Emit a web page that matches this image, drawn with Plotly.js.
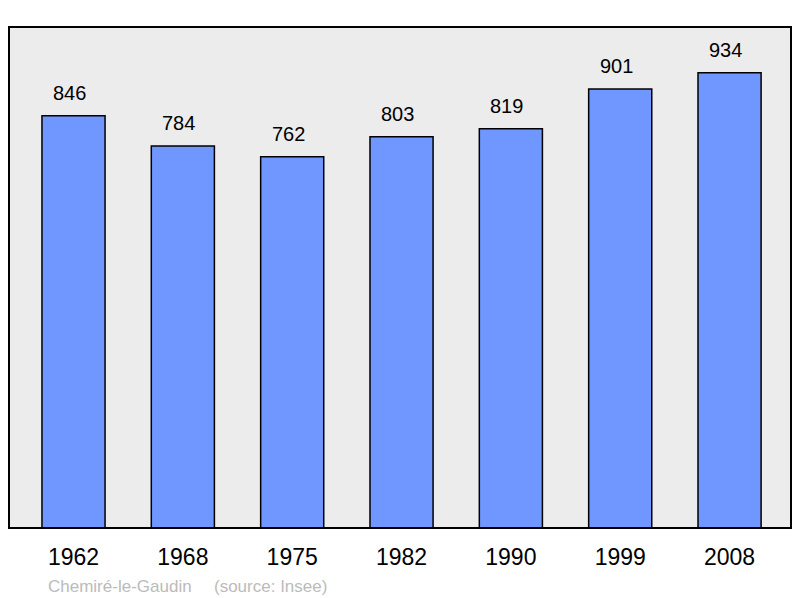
<!DOCTYPE html>
<html>
<head>
<meta charset="utf-8">
<script src="https://cdn.plot.ly/plotly-3.0.1.min.js"></script>
<style>
  body { margin: 0; background: #fff; }
  #chart { width: 800px; height: 598px; }
</style>
</head>
<body>
<div id="chart"></div>
<script>
// population by census year
var years = ['1962', '1968', '1975', '1982', '1990', '1999', '2008'];
var population = [846, 784, 762, 803, 819, 901, 934];
var commune = 'Chemiré-le-Gaudin';
var source = '(source: Insee)';

var trace = {
    x: years,
    y: population,
    type: 'bar',
    width: 0.577,
    marker: {
        color: '#7096ff',
        line: { color: '#000', width: 1.5 }
    },
    hoverinfo: 'none'
};

// value labels above the bars (x as category index)
var labels = [];
for (let i = 0; i < years.length; i++) {
    labels.push({
        x: i, y: population[i],
        xref: 'x', yref: 'y',
        yanchor: 'bottom', yshift: 10, xshift: -4,
        showarrow: false,
        text: String(population[i]),
        font: { size: 20, color: '#000' }
    });
}
labels.push({
    xref: 'paper', yref: 'paper',
    x: 0.047, y: -0.093, xanchor: 'left', yanchor: 'top',
    showarrow: false,
    text: commune,
    font: { size: 17, color: '#bbbbbb' }
});
labels.push({
    xref: 'paper', yref: 'paper',
    x: 0.259, y: -0.093, xanchor: 'left', yanchor: 'top',
    showarrow: false,
    text: source,
    font: { size: 17, color: '#bbbbbb' }
});

var layout = {
    width: 800,
    height: 598,
    margin: { l: 9, r: 9, t: 27, b: 70 },
    paper_bgcolor: '#fff',
    plot_bgcolor: '#ececec',
    showlegend: false,
    font: { family: 'Liberation Sans, Arial, sans-serif' },
    xaxis: {
        type: 'category',
        range: [-0.59, 6.562],
        showgrid: false,
        zeroline: false,
        showline: false,
        ticks: 'outside',
        ticklen: 8,
        tickcolor: 'rgba(0,0,0,0)',
        tickfont: { size: 23, color: '#000' }
    },
    yaxis: {
        range: [0, 1028],
        showgrid: false,
        zeroline: false,
        showticklabels: false,
        showline: false
    },
    shapes: [{
        type: 'rect', xref: 'paper', yref: 'paper',
        x0: 0, x1: 1, y0: 0, y1: 1,
        line: { color: '#000', width: 2 }
    }],
    annotations: labels
};

Plotly.newPlot('chart', [trace], layout, { staticPlot: true });
</script>
</body>
</html>
